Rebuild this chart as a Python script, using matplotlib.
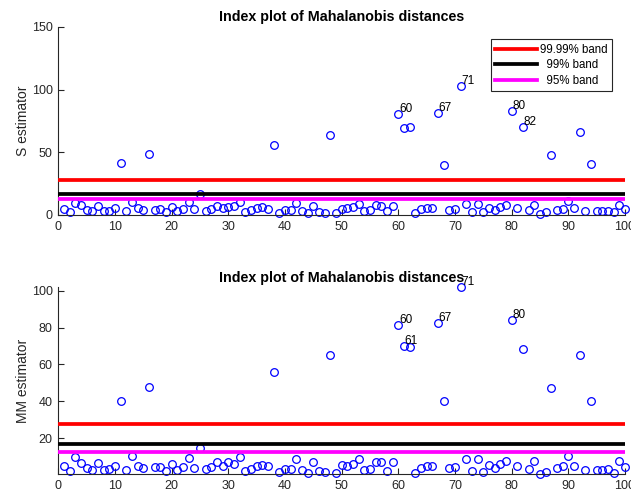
import numpy as np
import matplotlib
matplotlib.use('Agg')
import matplotlib.pyplot as plt

plt.rcParams['font.family'] = ['Liberation Sans', 'DejaVu Sans']

# squared robust distances, units 1..100
s_dist = [4.5, 2.4, 9.9, 7.7, 4.0, 3.2, 7.2, 3.5, 3.5, 5.3,
          41.8, 3.2, 10.7, 5.6, 4.3, 48.8, 4.0, 4.8, 2.4, 6.4,
          3.2, 4.8, 10.1, 4.8, 17.0, 3.2, 4.8, 7.5, 5.3, 6.7,
          6.9, 10.7, 2.4, 4.0, 5.3, 6.1, 4.8, 56.2, 1.9, 4.0,
          4.0, 9.9, 3.2, 1.9, 7.5, 2.7, 1.9, 64.0, 1.9, 5.1,
          5.3, 6.1, 8.5, 3.5, 4.0, 8.0, 7.5, 2.9, 6.9, 80.7,
          69.5, 70.1, 1.9, 4.5, 5.6, 5.9, 81.3, 39.7, 4.0, 4.5,
          102.9, 8.5, 2.4, 8.8, 2.4, 5.6, 4.0, 6.1, 8.3, 83.1,
          5.3, 70.1, 4.0, 7.7, 1.1, 2.7, 48.2, 4.3, 4.8, 11.2,
          5.6, 66.3, 3.2, 40.5, 3.2, 3.2, 3.2, 2.1, 7.7, 4.5]

mm_dist = [5.0, 2.5, 9.7, 6.5, 3.9, 2.8, 6.8, 3.0, 3.4, 5.0,
           40.4, 2.8, 10.4, 5.0, 3.9, 47.6, 4.3, 4.3, 2.3, 6.3,
           2.8, 4.3, 9.5, 3.7, 14.7, 3.4, 4.3, 7.0, 5.0, 7.2,
           6.1, 10.1, 2.5, 3.4, 5.0, 5.5, 5.0, 55.9, 1.75, 3.4,
           3.6, 9.0, 3.0, 1.4, 7.0, 2.3, 1.9, 65.1, 1.4, 5.5,
           5.0, 6.3, 8.6, 3.0, 3.4, 7.0, 7.0, 2.3, 7.0, 81.6,
           69.9, 69.3, 1.4, 3.7, 5.0, 5.0, 82.3, 40.4, 3.7, 4.3,
           101.8, 8.6, 2.3, 8.6, 1.9, 5.5, 3.7, 6.3, 7.7, 84.0,
           5.0, 68.4, 3.4, 7.7, 0.7, 1.9, 47.3, 3.7, 5.0, 10.6,
           5.0, 65.1, 2.8, 40.4, 2.8, 2.8, 3.4, 1.4, 7.7, 4.5]

s_labelled = [60, 67, 71, 80, 82]
mm_labelled = [60, 61, 67, 71, 80]

band_values = [27.86, 16.81, 12.59]
band_names = ['99.99% band', '  99% band', '  95% band']
band_colors = ['red', 'black', 'magenta']

axis_col = (0.15, 0.15, 0.15)


def style_axes(ax):
    for side in ['top', 'right']:
        ax.spines[side].set_visible(False)
    for side in ['left', 'bottom']:
        ax.spines[side].set_color(axis_col)
        ax.spines[side].set_linewidth(0.8)
    ax.tick_params(direction='in', length=4, width=0.8, colors=axis_col,
                   labelsize=9, pad=4)


def index_plot(ax, dist, labelled, ylabel):
    units = np.arange(1, len(dist) + 1)
    ax.plot(units, dist, 'o', mfc='none', mec='blue', ms=5.5, mew=0.9,
            clip_on=False, zorder=2)
    lines = []
    for val, col, name in zip(band_values, band_colors, band_names):
        ln, = ax.plot([0, len(dist)], [val, val], color=col, lw=2.7,
                      label=name, zorder=3)
        lines.append(ln)
    for u in labelled:
        ax.annotate(str(u), (u, dist[u - 1]), xytext=(0.5, 3.5),
                    textcoords='offset points', ha='left', va='center',
                    fontsize=8.5, color='black')
    ax.set_xlim(0, len(dist))
    ax.set_xticks(np.arange(0, 101, 10))
    ax.set_title('Index plot of Mahalanobis distances', fontsize=10.3,
                 fontweight='bold', pad=4)
    ax.set_ylabel(ylabel, fontsize=10, color=axis_col, labelpad=1.5)
    style_axes(ax)
    return lines


def main():
    fig = plt.figure(figsize=(6.31, 4.95), dpi=100)
    ax1 = fig.add_axes([0.0924, 0.5657, 0.898, 0.3798])
    ax2 = fig.add_axes([0.0924, 0.0424, 0.898, 0.3772])

    lines = index_plot(ax1, s_dist, s_labelled, 'S estimator')
    ax1.set_ylim(0, 150)
    ax1.set_yticks([0, 50, 100, 150])
    leg = ax1.legend(handles=lines, loc='upper right',
                     bbox_to_anchor=(0.978, 0.935), fontsize=8.3,
                     fancybox=False, edgecolor=axis_col, framealpha=1,
                     handlelength=3.6, handletextpad=0.3, labelspacing=0.3,
                     borderpad=0.4, borderaxespad=0)
    leg.get_frame().set_linewidth(0.8)

    index_plot(ax2, mm_dist, mm_labelled, 'MM estimator')
    ax2.set_ylim(min(mm_dist), max(mm_dist))
    ax2.set_yticks([20, 40, 60, 80, 100])

    fig.savefig('out.png', dpi=100)


if __name__ == '__main__':
    main()
